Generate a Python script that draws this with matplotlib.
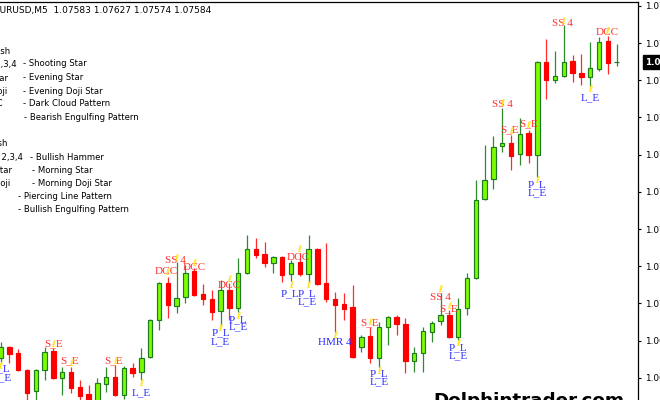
import matplotlib
matplotlib.use("Agg")
import matplotlib.pyplot as plt

# ---------------- data ----------------
header_text = "EURUSD,M5  1.07583 1.07627 1.07574 1.07584"

opens = [1.06868, 1.06895, 1.06880, 1.06839, 1.06788, 1.06839, 1.06885, 1.06820, 1.06834, 1.06798,
         1.06781, 1.06764, 1.06805, 1.06822, 1.06779, 1.06844, 1.06834, 1.06870, 1.06960, 1.07049,
         1.06994, 1.07016, 1.07078, 1.07023, 1.07011, 1.06982, 1.07032, 1.06989, 1.07074, 1.07132,
         1.07120, 1.07098, 1.07112, 1.07071, 1.07100, 1.07071, 1.07132, 1.07049, 1.07011, 1.06999,
         1.06991, 1.06895, 1.06921, 1.06868, 1.06943, 1.06967, 1.06950, 1.06861, 1.06880, 1.06931,
         1.06958, 1.06972, 1.06919, 1.06989, 1.07061, 1.07253, 1.07301, 1.07381, 1.07388, 1.07361,
         1.07412, 1.07359, 1.07584, 1.07540, 1.07550, 1.07586, 1.07557, 1.07548, 1.07567, 1.07635,
         1.07583]
highs = [1.06907, 1.06897, 1.06890, 1.06841, 1.06841, 1.06895, 1.06892, 1.06846, 1.06846, 1.06815,
         1.06803, 1.06820, 1.06846, 1.06851, 1.06849, 1.06856, 1.06892, 1.06962, 1.07052, 1.07064,
         1.07100, 1.07093, 1.07086, 1.07047, 1.07032, 1.07057, 1.07049, 1.07110, 1.07166, 1.07158,
         1.07149, 1.07115, 1.07115, 1.07105, 1.07122, 1.07166, 1.07134, 1.07146, 1.07028, 1.07025,
         1.07045, 1.06924, 1.06943, 1.06955, 1.06970, 1.06972, 1.06965, 1.06895, 1.06943, 1.06958,
         1.07025, 1.06984, 1.07013, 1.07074, 1.07299, 1.07383, 1.07405, 1.07473, 1.07407, 1.07449,
         1.07420, 1.07586, 1.07640, 1.07611, 1.07673, 1.07601, 1.07603, 1.07632, 1.07645, 1.07647,
         1.07627]
lows = [1.06858, 1.06856, 1.06837, 1.06766, 1.06766, 1.06815, 1.06817, 1.06779, 1.06783, 1.06766,
        1.06759, 1.06759, 1.06786, 1.06776, 1.06769, 1.06822, 1.06815, 1.06868, 1.06936, 1.06965,
        1.06977, 1.07001, 1.07018, 1.06996, 1.06960, 1.06948, 1.06960, 1.06979, 1.07071, 1.07110,
        1.07088, 1.07074, 1.07052, 1.07054, 1.07066, 1.07052, 1.07045, 1.07003, 1.06931, 1.06960,
        1.06868, 1.06883, 1.06856, 1.06846, 1.06899, 1.06924, 1.06832, 1.06834, 1.06834, 1.06907,
        1.06948, 1.06916, 1.06912, 1.06972, 1.07059, 1.07250, 1.07277, 1.07366, 1.07323, 1.07335,
        1.07340, 1.07306, 1.07495, 1.07533, 1.07548, 1.07536, 1.07528, 1.07526, 1.07562, 1.07555,
        1.07574]
closes = [1.06895, 1.06878, 1.06839, 1.06783, 1.06839, 1.06883, 1.06820, 1.06834, 1.06795, 1.06776,
          1.06764, 1.06808, 1.06822, 1.06779, 1.06844, 1.06832, 1.06868, 1.06960, 1.07049, 1.06996,
          1.07013, 1.07074, 1.07020, 1.07011, 1.06979, 1.07032, 1.06989, 1.07074, 1.07132, 1.07117,
          1.07098, 1.07112, 1.07069, 1.07098, 1.07071, 1.07132, 1.07047, 1.07011, 1.06996, 1.06986,
          1.06870, 1.06919, 1.06868, 1.06943, 1.06967, 1.06950, 1.06861, 1.06880, 1.06933, 1.06953,
          1.06972, 1.06919, 1.06986, 1.07061, 1.07250, 1.07299, 1.07378, 1.07388, 1.07357, 1.07410,
          1.07359, 1.07584, 1.07540, 1.07550, 1.07584, 1.07557, 1.07548, 1.07569, 1.07632, 1.07582,
          1.07584]

price_ticks = [1.07720, 1.07630, 1.07540, 1.07450, 1.07360, 1.07270, 1.07180,
               1.07090, 1.07000, 1.06910, 1.06820]

# bearish pattern labels (candle index, text)
bear_idx = [6, 8, 13, 19, 20, 22, 26, 34, 42, 50, 51, 57, 58, 60, 64, 69]
bear_txt = ["S_E", "S_E", "S_E", "DCC", "SS 4", "DCC", "DCC", "DCC", "S_E", "SS 4",
            "S_E", "SS 4", "S_E", "S_E", "SS 4", "DCC"]
# bullish pattern labels (candle index, text)
bull_idx = [0, 0, 16, 25, 25, 27, 27, 33, 35, 35, 38, 43, 43, 52, 52, 61, 61, 67]
bull_txt = ["P_L", "L_E", "L_E", "P_L", "L_E", "P_L", "L_E", "P_L", "P_L", "L_E",
            "HMR 4", "P_L", "L_E", "P_L", "L_E", "P_L", "L_E", "L_E"]

legend_prefix = ["Bearish", "SS 2,3,4", "E_Star", "E_Doji", "DCC", "S_E",
                 "Bullish", "HMR 2,3,4", "M_Star", "M_Doji", "P_L", "L_E"]
legend_desc = ["", "- Shooting Star", "- Evening Star", "- Evening Doji Star",
               "- Dark Cloud Pattern", "- Bearish Engulfing Pattern",
               "", "- Bullish Hammer", "- Morning Star", "- Morning Doji Star",
               "- Piercing Line Pattern", "- Bullish Engulfing Pattern"]

watermark = "Dolphintrader.com"

# ---------------- layout / style ----------------
W, H = 660, 400
# label offsets in pixels (dx, dy; dy positive = up)
bear_off = [(0, 4), (-1, 6), (-1, 4), (-1, 5), (-1, 2), (0, 0), (0, -2), (-1, -4), (-1, 4),
            (0, -4), (-1, 1), (0, 3), (-1, 5), (0, 6), (-1, 2), (0, 3)]
bull_off = [(1, -7), (2, -16), (0, -13), (0, -8), (0, -17), (0, -8), (0, -15), (-1, -13),
            (-1, -12), (-1, -20), (0, -11), (0, -7), (0, -15), (0, -8), (0, -16),
            (0, -8), (0, -16), (0, -12)]
legend_prefix_right = [10, 17, 8, 7, 3, -3, 7, 23, 12, 10, -3, -3]
legend_desc_left = [0, 22.7, 22.7, 22.7, 22.7, 24, 0, 30, 31.7, 31.7, 18, 18]
legend_y = [51.7, 64, 78, 91, 104, 117, 143, 157, 170, 183, 197, 210]

BULL_FILL = "#7CFC00"
BULL_EDGE = "#1E7B1E"
BULL_WICK = "#2F8A2F"
BEAR_FILL = "#FF0000"
BEAR_WICK = "#FF2A2A"
RED_TXT = "#FF3030"
BLUE_TXT = "#2B2BFF"
YELLOW = "#FFE000"

fig = plt.figure(figsize=(W / 100, H / 100), dpi=100)
fig.patch.set_facecolor("white")

ax_left_px, ax_right_px, ax_top_px = 0, 638, 2
ax = fig.add_axes([ax_left_px / W, 0, (ax_right_px - ax_left_px) / W, 1 - ax_top_px / H])
ax.set_facecolor("white")

n = len(opens)
x = list(range(n))

# wicks
wick_colors = [BULL_WICK if c >= o else BEAR_WICK for o, c in zip(opens, closes)]
ax.vlines(x, lows, highs, colors=wick_colors, linewidth=0.9, zorder=2)

# bodies
bottoms = [min(o, c) for o, c in zip(opens, closes)]
heights = [abs(c - o) for o, c in zip(opens, closes)]
fills = [BULL_FILL if c >= o else BEAR_FILL for o, c in zip(opens, closes)]
edges = [BULL_EDGE if c >= o else BEAR_FILL for o, c in zip(opens, closes)]
ax.bar(x, heights, bottom=bottoms, width=0.5, color=fills, edgecolor=edges,
       linewidth=0.85, zorder=3)

# axis limits matching the pixel geometry (candle spacing 8.8px, first candle at x=0.5px)
px_per_bar = 8.8
ax.set_xlim(-0.5 / px_per_bar, (ax_right_px - 0.5) / px_per_bar)
ax.set_ylim(1.067664, 1.077292)

# right price scale
ax.yaxis.tick_right()
ax.set_yticks(price_ticks)
ax.set_yticklabels([f"{t:.5f}" for t in price_ticks])
ax.tick_params(axis="y", which="major", length=2.5, width=0.8, color="black",
               pad=2.6, labelsize=6.4, labelcolor="black")
ax.set_xticks([])
for lab in ax.get_yticklabels():
    lab.set_fontfamily("DejaVu Sans")
ax.spines["left"].set_visible(False)
ax.spines["bottom"].set_visible(False)
ax.spines["right"].set_linewidth(0.9)
ax.spines["top"].set_linewidth(0.9)

# current price box
ax.annotate(f"{closes[-1]:.5f}", xy=(1, closes[-1]), xycoords=("axes fraction", "data"),
            xytext=(7, 0), textcoords="offset pixels", ha="left", va="center",
            fontsize=6.4, color="white", fontweight="bold", annotation_clip=False,
            bbox=dict(boxstyle="square,pad=0.25", fc="black", ec="black"), zorder=10)

# pattern labels
serif = ["Liberation Serif", "DejaVu Serif"]
for i, t, (dx, dy) in zip(bear_idx, bear_txt, bear_off):
    ax.annotate(t, xy=(i, highs[i]), xytext=(dx, dy), textcoords="offset pixels",
                ha="center", va="center", fontsize=8, color=RED_TXT, family=serif, zorder=5)
for i, t, (dx, dy) in zip(bull_idx, bull_txt, bull_off):
    ax.annotate(t, xy=(i, lows[i]), xytext=(dx, dy), textcoords="offset pixels",
                ha="center", va="center", fontsize=8, color=BLUE_TXT, family=serif, zorder=5)

# small yellow markers at the pattern candles
for i in sorted(set(bear_idx)):
    ax.annotate("\u2113", xy=(i, highs[i]), xytext=(0, 4), textcoords="offset pixels",
                ha="center", va="center", fontsize=6.5, fontweight="bold",
                color=YELLOW, zorder=6)
for i in sorted(set(bull_idx)):
    ax.annotate("\u2113", xy=(i, lows[i]), xytext=(0, -4), textcoords="offset pixels",
                ha="center", va="center", fontsize=6.5, fontweight="bold",
                color=YELLOW, zorder=6)

# header and legend text (figure pixel coordinates)
def fx(px):
    return px / W

def fy(py):
    return 1 - py / H

fig.text(fx(-5.5), fy(11), header_text, ha="left", va="center", fontsize=6.5,
         family="DejaVu Sans", color="black")
for pre, desc, xr, xl, yy in zip(legend_prefix, legend_desc, legend_prefix_right,
                                  legend_desc_left, legend_y):
    fig.text(fx(xr), fy(yy), pre, ha="right", va="center", fontsize=6.1,
             family="DejaVu Sans", color="black")
    if desc:
        fig.text(fx(xl), fy(yy), desc, ha="left", va="center", fontsize=6.1,
                 family="DejaVu Sans", color="black")

# watermark
fig.text(fx(433), fy(392), watermark, ha="left", va="top", fontsize=13.2,
         fontweight="bold", family="DejaVu Sans", color="black", zorder=20)

fig.savefig("out.png", dpi=100, facecolor="white")
